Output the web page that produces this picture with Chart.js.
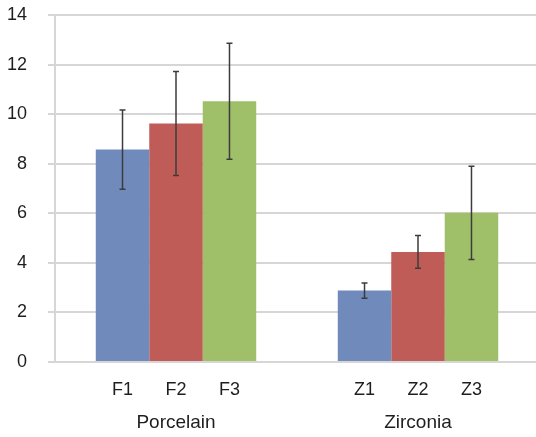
<!DOCTYPE html>
<html>
<head>
<meta charset="utf-8">
<script src="https://cdn.jsdelivr.net/npm/chart.js@4"></script>
<style>
  html, body { margin: 0; padding: 0; background: #fff; overflow: hidden; }
  #wrap { width: 540px; height: 437px; }
</style>
</head>
<body>
<div id="wrap"><canvas id="chart" width="540" height="437"></canvas></div>
<script>
// Data
const groups = ['Porcelain', 'Zirconia'];
const seriesNames = ['1', '2', '3'];
const subLabels = [['F1', 'Z1'], ['F2', 'Z2'], ['F3', 'Z3']];
const series1 = [8.57, 2.88];
const series2 = [9.62, 4.44];
const series3 = [10.52, 6.02];
const err1 = [1.6, 0.31];
const err2 = [2.1, 0.66];
const err3 = [2.34, 1.88];
const yTicks = [0, 2, 4, 6, 8, 10, 12, 14];

const colors = ['#6f8abb', '#bf5c58', '#9fbf68'];
const values = [series1, series2, series3];
const errors = [err1, err2, err3];
const textColor = '#1e1e1e';
const fontFamily = '"Liberation Sans", Arial, sans-serif';

// Error bars and the per-bar labels under the axis
const extrasPlugin = {
    id: 'extras',
    afterDatasetsDraw(chart) {
        const ctx = chart.ctx;
        const y = chart.scales.y;
        ctx.save();
        ctx.strokeStyle = '#3c3c3c';
        ctx.lineWidth = 1.5;
        chart.data.datasets.forEach((ds, i) => {
            chart.getDatasetMeta(i).data.forEach((bar, j) => {
                const v = ds.data[j];
                const e = errors[i][j];
                const top = y.getPixelForValue(v + e);
                const bot = y.getPixelForValue(v - e);
                ctx.beginPath();
                ctx.moveTo(bar.x, top);
                ctx.lineTo(bar.x, bot);
                ctx.moveTo(bar.x - 3, top);
                ctx.lineTo(bar.x + 3, top);
                ctx.moveTo(bar.x - 3, bot);
                ctx.lineTo(bar.x + 3, bot);
                ctx.stroke();
            });
        });
        ctx.restore();
    },
    afterDraw(chart) {
        const ctx = chart.ctx;
        ctx.save();
        ctx.fillStyle = textColor;
        ctx.font = '18px ' + fontFamily;
        ctx.textAlign = 'center';
        ctx.textBaseline = 'middle';
        chart.data.datasets.forEach((ds, i) => {
            chart.getDatasetMeta(i).data.forEach((bar, j) => {
                ctx.fillText(subLabels[i][j], bar.x, chart.chartArea.bottom + 28);
            });
        });
        ctx.restore();
    }
};

new Chart(document.getElementById('chart'), {
    type: 'bar',
    data: {
        labels: groups,
        datasets: values.map((v, i) => ({
            label: seriesNames[i],
            data: v,
            backgroundColor: colors[i],
            borderWidth: 0,
            barPercentage: 1,
            categoryPercentage: 0.663
        }))
    },
    options: {
        responsive: false,
        animation: false,
        layout: { padding: { top: 15, left: 7, right: 1, bottom: 0 } },
        plugins: {
            legend: { display: false },
            tooltip: { enabled: false }
        },
        scales: {
            x: {
                grid: { display: false, drawTicks: false },
                border: { display: false },
                ticks: {
                    color: textColor,
                    font: { family: fontFamily, size: 19 },
                    padding: 49
                },
                afterFit: axis => {
                    axis.height = 75;
                    axis.paddingLeft = 0;
                    axis.paddingRight = 0;
                }
            },
            y: {
                min: 0,
                max: 14,
                afterBuildTicks: axis => { axis.ticks = yTicks.map(v => ({ value: v })); },
                grid: { color: '#d6d6d6', lineWidth: 2, tickLength: 7 },
                border: { color: '#d6d6d6', width: 2 },
                ticks: {
                    color: textColor,
                    font: { family: fontFamily, size: 18 },
                    padding: 21
                },
                afterFit: axis => {
                    axis.width = 48;
                    axis.paddingTop = 0;
                    axis.paddingBottom = 0;
                }
            }
        }
    },
    plugins: [extrasPlugin]
});
</script>
</body>
</html>
